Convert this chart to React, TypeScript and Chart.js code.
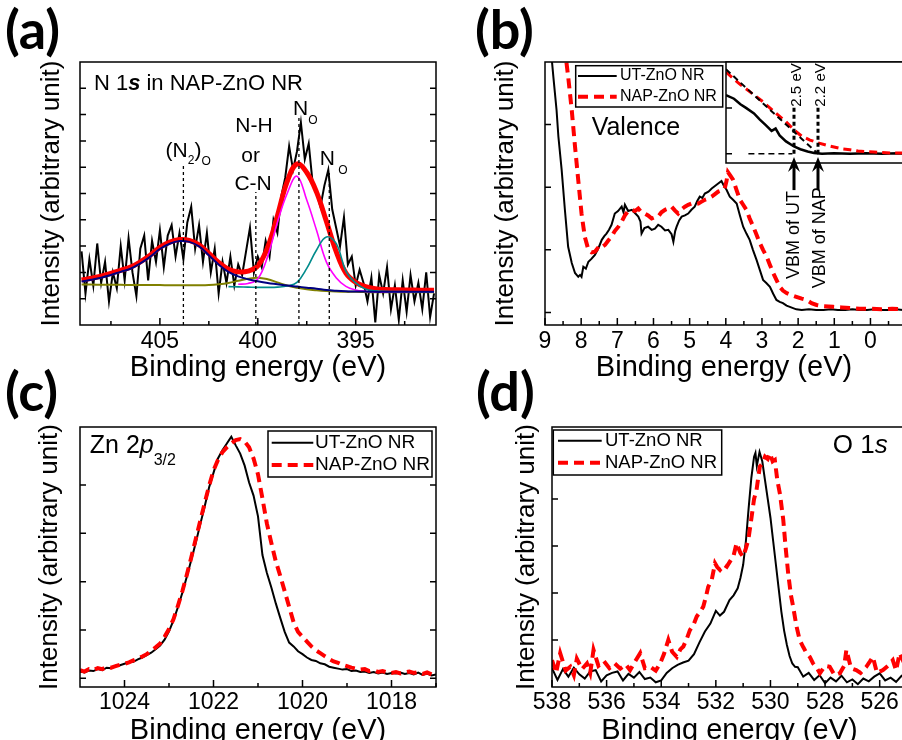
import React, { useEffect, useRef } from 'react';
import { Chart, registerables } from 'chart.js';

Chart.register(...registerables);

const FONT = '"Liberation Sans", Arial, Helvetica, sans-serif';
const X_TITLE = 'Binding energy (eV)';
const Y_TITLE = 'Intensity (arbitrary unit)';
const UT_LABEL = 'UT-ZnO NR';
const NAP_LABEL = 'NAP-ZnO NR';

// ---------------- Panel (a): N 1s in NAP-ZnO NR ----------------
const n1sTicks = [395, 400, 405];
const n1sMinorTicks = [392.5, 397.5, 402.5, 407.5];
const n1sYTicks = [1, 2, 3, 4, 5, 6, 7, 8, 9];
const n1sDataEnergy = [
  409.0, 408.8, 408.6, 408.4, 408.2, 408.0, 407.8, 407.6, 407.4, 407.2,
  407.0, 406.8, 406.6, 406.4, 406.2, 406.0, 405.8, 405.6, 405.4, 405.2,
  405.0, 404.8, 404.6, 404.4, 404.2, 404.0, 403.8, 403.6, 403.4, 403.2,
  403.0, 402.8, 402.6, 402.4, 402.2, 402.0, 401.8, 401.6, 401.4, 401.2,
  401.0, 400.8, 400.6, 400.4, 400.2, 400.0, 399.8, 399.6, 399.4, 399.2,
  399.0, 398.8, 398.6, 398.4, 398.2, 398.0, 397.8, 397.6, 397.4, 397.2,
  397.0, 396.8, 396.6, 396.4, 396.2, 396.0, 395.8, 395.6, 395.4, 395.2,
  395.0, 394.8, 394.6, 394.4, 394.2, 394.0, 393.8, 393.6, 393.4, 393.2,
  393.0, 392.8, 392.6, 392.4, 392.2, 392.0, 391.8, 391.6, 391.4, 391.2,
  391.0,
];
const n1sData = [
  2.8, 1.2, 2.5, 1.5, 3.1, 1.6, 2.4, 0.9, 2.0, 1.4,
  3.0, 1.7, 3.3, 2.0, 1.1, 2.9, 3.4, 1.7, 3.2, 2.4,
  3.6, 2.2, 3.4, 3.8, 2.6, 3.5, 2.5, 3.9, 4.5, 2.9,
  3.8, 2.4, 3.5, 2.0, 2.9, 1.2, 2.4, 1.6, 2.6, 1.5,
  2.3, 1.9, 2.8, 3.7, 2.0, 2.6, 2.2, 3.2, 2.6, 4.0,
  3.5, 4.9, 5.6, 6.8, 5.9, 6.6, 7.7, 6.3, 6.9, 5.4,
  5.0, 4.5, 5.3, 5.9, 4.4, 3.7, 3.0, 4.1, 2.3, 2.6,
  1.5, 2.1, 1.6, 0.9, 1.8, 0.1, 1.9, 1.2, 2.2, 0.6,
  1.5, 0.2, 1.7, 0.5, 1.9, 0.9, 1.6, 0.6, 2.0, 0.3,
  1.2,
];
const n1sFitEnergy = [
  409.0, 408.5, 408.0, 407.5, 407.0, 406.5, 406.0, 405.5, 405.0, 404.5,
  404.0, 403.5, 403.0, 402.5, 402.0, 401.5, 401.0, 400.5, 400.0, 399.5,
  399.0, 398.5, 398.0, 397.5, 397.0, 396.5, 396.0, 395.5, 395.0, 394.5,
  394.0, 393.5, 393.0, 392.5, 392.0, 391.5, 391.0,
];
const n1sEnvelope = [
  1.71, 1.78, 1.86, 1.96, 2.08, 2.20, 2.40, 2.65, 2.95, 3.15,
  3.25, 3.22, 3.05, 2.72, 2.38, 2.12, 2.02, 2.05, 2.25, 2.95,
  4.15, 5.45, 6.12, 5.80, 5.05, 3.95, 2.80, 1.97, 1.62, 1.46,
  1.38, 1.35, 1.34, 1.33, 1.33, 1.32, 1.32,
];
const n1sN2OComp = [
  1.65, 1.72, 1.80, 1.90, 2.02, 2.14, 2.34, 2.59, 2.89, 3.09,
  3.19, 3.16, 2.99, 2.65, 2.30, 2.02, 1.85, 1.74, 1.66, 1.60,
  1.55, 1.50, 1.46, 1.42, 1.38, 1.33, 1.30, 1.28, 1.27, 1.27,
  1.26, 1.26, 1.26, 1.26, 1.26, 1.26, 1.26,
];
const n1sNOComp1 = [
  null, null, null, null, null, null, null, null, null, null,
  null, null, null, null, null, null, 1.55, 1.58, 1.75, 2.60,
  3.90, 5.00, 5.66, 4.75, 3.60, 2.40, 1.80, 1.47, 1.33, 1.28,
  1.26, 1.25, 1.25, 1.25, 1.25, 1.25, 1.25,
];
const n1sNOComp2 = [
  null, null, null, null, null, null, null, null, null, null,
  null, null, null, null, null, 1.46, 1.45, 1.44, 1.43, 1.43,
  1.44, 1.48, 1.62, 2.15, 2.85, 3.35, 3.10, 2.05, 1.60, 1.37,
  1.30, 1.28, 1.27, 1.27, 1.26, 1.26, 1.26,
];
const n1sBackground = [
  1.54, 1.54, 1.53, 1.53, 1.53, 1.52, 1.52, 1.52, 1.52, 1.51,
  1.51, 1.51, 1.51, 1.52, 1.55, 1.60, 1.68, 1.76, 1.80, 1.74,
  1.62, 1.50, 1.42, 1.36, 1.32, 1.29, 1.27, 1.26, 1.26, 1.25,
  1.25, 1.25, 1.25, 1.25, 1.25, 1.25, 1.25,
];

// ---------------- Panel (b): Valence band ----------------
const valTicks = [0, 1, 2, 3, 4, 5, 6, 7, 8, 9];
const valMinorTicks = [-0.5, 0.5, 1.5, 2.5, 3.5, 4.5, 5.5, 6.5, 7.5, 8.5];
const valYTicks = [0, 1, 2, 3];
const valenceUT: [number, number][] = [
  [8.9, 4.6], [8.77, 3.77], [8.68, 3.23], [8.63, 2.81], [8.54, 2.28], [8.45, 1.64], [8.36, 1.05],
  [8.26, 0.79], [8.17, 0.63], [8.08, 0.57], [8.03, 0.6], [7.99, 0.57], [7.94, 0.73], [7.87, 0.7],
  [7.8, 0.81], [7.71, 0.86], [7.62, 0.92], [7.52, 1.03], [7.43, 1.16], [7.36, 1.22], [7.3, 1.26],
  [7.23, 1.32], [7.16, 1.4], [7.07, 1.58], [6.98, 1.62], [6.88, 1.69], [6.83, 1.6], [6.79, 1.72],
  [6.7, 1.62], [6.6, 1.64], [6.5, 1.58], [6.42, 1.53], [6.36, 1.45], [6.33, 1.26], [6.25, 1.35],
  [6.15, 1.37], [6.05, 1.32], [5.96, 1.34], [5.87, 1.4], [5.78, 1.37], [5.68, 1.31], [5.59, 1.32],
  [5.5, 1.25], [5.45, 1.13], [5.4, 1.3], [5.36, 1.37], [5.29, 1.47], [5.22, 1.53], [5.13, 1.55],
  [5.04, 1.58], [4.95, 1.64], [4.86, 1.69], [4.79, 1.78], [4.72, 1.85], [4.65, 1.83], [4.58, 1.9],
  [4.48, 1.93], [4.39, 1.98], [4.3, 2.02], [4.21, 2.06], [4.12, 2.1], [4.05, 2.02], [3.98, 1.96],
  [3.89, 1.85], [3.8, 1.8], [3.7, 1.74], [3.61, 1.55], [3.52, 1.37], [3.43, 1.26], [3.34, 1.16],
  [3.25, 1.0], [3.15, 0.84], [3.06, 0.68], [2.97, 0.52], [2.88, 0.47], [2.78, 0.41], [2.69, 0.3],
  [2.6, 0.2], [2.51, 0.17], [2.42, 0.15], [2.32, 0.11], [2.23, 0.09], [2.14, 0.07], [2.05, 0.05],
  [1.9, 0.04], [1.7, 0.05], [1.5, 0.04], [1.3, 0.04], [1.1, 0.05], [0.9, 0.04], [0.7, 0.04],
  [0.5, 0.05], [0.3, 0.04], [0.1, 0.04], [-0.1, 0.05], [-0.3, 0.04], [-0.5, 0.04], [-0.7, 0.05],
  [-0.9, 0.04],
];
const valenceNAP: [number, number][] = [
  [8.5, 4.5], [8.45, 4.2], [8.36, 3.77], [8.26, 3.23], [8.17, 2.65], [8.08, 2.11], [7.99, 1.58],
  [7.9, 1.21], [7.8, 1.0], [7.71, 0.96], [7.62, 0.97], [7.55, 1.02], [7.48, 1.0], [7.41, 1.05],
  [7.34, 1.08], [7.25, 1.15], [7.16, 1.21], [7.07, 1.3], [6.97, 1.37], [6.88, 1.45], [6.79, 1.55],
  [6.7, 1.62], [6.6, 1.64], [6.51, 1.62], [6.42, 1.66], [6.33, 1.6], [6.24, 1.58], [6.15, 1.55],
  [6.05, 1.5], [5.96, 1.52], [5.87, 1.53], [5.78, 1.6], [5.68, 1.64], [5.59, 1.66], [5.5, 1.69],
  [5.41, 1.63], [5.32, 1.58], [5.22, 1.65], [5.13, 1.69], [5.04, 1.72], [4.95, 1.74], [4.86, 1.73],
  [4.76, 1.74], [4.67, 1.77], [4.58, 1.8], [4.48, 1.82], [4.39, 1.85], [4.3, 1.89], [4.21, 1.93],
  [4.12, 1.95], [4.03, 1.98], [3.98, 2.1], [3.94, 2.24], [3.87, 2.18], [3.8, 2.12], [3.7, 1.95],
  [3.61, 1.8], [3.52, 1.72], [3.43, 1.64], [3.34, 1.5], [3.24, 1.37], [3.15, 1.24], [3.06, 1.11],
  [2.97, 1.0], [2.87, 0.89], [2.78, 0.76], [2.69, 0.63], [2.6, 0.52], [2.51, 0.41], [2.42, 0.35],
  [2.32, 0.31], [2.2, 0.28], [2.05, 0.25], [1.9, 0.22], [1.77, 0.2], [1.63, 0.15], [1.49, 0.12],
  [1.3, 0.1], [1.03, 0.09], [0.8, 0.08], [0.57, 0.07], [0.3, 0.06], [0.0, 0.06], [-0.3, 0.05],
  [-0.6, 0.06], [-0.9, 0.05],
];
// inset (zoom of the valence band edge)
const insetYTicks = [0, 1];
const insetUT: [number, number][] = [
  [3.35, 1.28], [3.25, 1.2], [3.17, 1.08], [3.1, 1.0], [3.0, 0.88], [2.93, 0.75], [2.85, 0.62],
  [2.78, 0.5], [2.73, 0.55], [2.68, 0.4], [2.6, 0.27], [2.5, 0.16], [2.42, 0.1], [2.33, 0.05],
  [2.25, 0.02], [2.15, 0.0], [2.0, 0.01], [1.8, 0.0], [1.6, 0.01], [1.4, 0.0], [1.2, 0.01], [0.98, 0.0],
];
const insetNAP: [number, number][] = [
  [3.35, 1.78], [3.2, 1.55], [3.05, 1.35], [2.9, 1.15], [2.75, 0.92], [2.6, 0.7], [2.5, 0.52],
  [2.4, 0.38], [2.3, 0.3], [2.2, 0.24], [2.1, 0.19], [2.0, 0.15], [1.9, 0.11], [1.8, 0.09],
  [1.7, 0.06], [1.5, 0.04], [1.3, 0.02], [0.98, 0.02],
];
const insetTangent: [number, number][] = [[3.35, 1.84], [2.2, 0]];
const insetBaseline: [number, number][] = [[3.07, 0], [2.52, 0]];
const vbmUT = 2.5;
const vbmNAP = 2.2;

// ---------------- Panel (c): Zn 2p3/2 ----------------
const znTicks = [1018, 1020, 1022, 1024];
const znMinorTicks = [1017, 1019, 1021, 1023];
const znYTicks = [0, 1, 2, 3, 4];
const znEnergy = [
  1025.0, 1024.9, 1024.8, 1024.7, 1024.6, 1024.5, 1024.4, 1024.3, 1024.2, 1024.1,
  1024.0, 1023.9, 1023.8, 1023.7, 1023.6, 1023.5, 1023.4, 1023.3, 1023.2, 1023.1,
  1023.0, 1022.9, 1022.8, 1022.7, 1022.6, 1022.5, 1022.4, 1022.3, 1022.2, 1022.1,
  1022.0, 1021.9, 1021.8, 1021.7, 1021.6, 1021.5, 1021.4, 1021.3, 1021.2, 1021.1,
  1021.0, 1020.9, 1020.8, 1020.7, 1020.6, 1020.5, 1020.4, 1020.3, 1020.2, 1020.1,
  1020.0, 1019.9, 1019.8, 1019.7, 1019.6, 1019.5, 1019.4, 1019.3, 1019.2, 1019.1,
  1019.0, 1018.9, 1018.8, 1018.7, 1018.6, 1018.5, 1018.4, 1018.3, 1018.2, 1018.1,
  1018.0, 1017.9, 1017.8, 1017.7, 1017.6, 1017.5, 1017.4, 1017.3, 1017.2, 1017.1,
  1017.0,
];
const znUT = [
  0.14, 0.12, 0.16, 0.15, 0.19, 0.17, 0.22, 0.21, 0.26, 0.27,
  0.30, 0.33, 0.34, 0.39, 0.43, 0.48, 0.53, 0.60, 0.68, 0.80,
  0.97, 1.20, 1.47, 1.77, 2.10, 2.45, 2.80, 3.18, 3.55, 3.95,
  4.25, 4.55, 4.72, 4.86, 5.00, 4.82, 4.65, 4.40, 4.05, 3.78,
  3.35, 2.55, 2.18, 1.88, 1.55, 1.25, 0.96, 0.74, 0.66, 0.56,
  0.50, 0.43, 0.38, 0.36, 0.31, 0.29, 0.24, 0.22, 0.20, 0.18,
  0.19, 0.15, 0.16, 0.13, 0.14, 0.11, 0.13, 0.10, 0.12, 0.09,
  0.11, 0.10, 0.12, 0.09, 0.11, 0.08, 0.12, 0.07, 0.10, 0.06,
  0.08,
];
const znNAP = [
  0.17, 0.14, 0.19, 0.17, 0.21, 0.19, 0.23, 0.22, 0.25, 0.28,
  0.30, 0.33, 0.37, 0.41, 0.45, 0.50, 0.57, 0.64, 0.72, 0.86,
  1.02, 1.22, 1.50, 1.80, 2.14, 2.50, 2.88, 3.25, 3.62, 3.98,
  4.30, 4.52, 4.68, 4.78, 4.86, 4.93, 4.95, 4.90, 4.78, 4.55,
  4.22, 3.72, 3.20, 2.80, 2.42, 2.12, 1.80, 1.48, 1.16, 0.96,
  0.86, 0.76, 0.66, 0.58, 0.52, 0.46, 0.40, 0.35, 0.32, 0.28,
  0.25, 0.22, 0.20, 0.18, 0.19, 0.15, 0.17, 0.13, 0.15, 0.12,
  0.11, 0.13, 0.10, 0.12, 0.14, 0.11, 0.13, 0.09, 0.12, 0.08,
  0.09,
];

// ---------------- Panel (d): O 1s ----------------
const oTicks = [526, 528, 530, 532, 534, 536, 538];
const oMinorTicks = [527, 529, 531, 533, 535, 537];
const oYTicks = [1, 2, 3, 4];
const o1sUT: [number, number][] = [
  [538.0, 0.4], [537.8, 0.15], [537.6, 0.38], [537.4, 0.22], [537.2, 0.41], [537.0, 0.27],
  [536.8, 0.18], [536.6, 0.33], [536.4, 0.36], [536.2, 0.12], [536.0, 0.25], [535.8, 0.3],
  [535.6, 0.33], [535.4, 0.14], [535.2, 0.28], [535.0, 0.2], [534.8, 0.32], [534.6, 0.17],
  [534.4, 0.2], [534.2, 0.1], [534.0, 0.14], [533.8, 0.3], [533.6, 0.4], [533.4, 0.47],
  [533.2, 0.52], [533.0, 0.56], [532.8, 0.7], [532.6, 0.95], [532.4, 1.18], [532.2, 1.35],
  [532.0, 1.62], [531.85, 1.52], [531.7, 1.6], [531.5, 1.85], [531.35, 1.95], [531.2, 2.1],
  [531.1, 2.32], [531.0, 2.6], [530.9, 3.1], [530.8, 3.8], [530.7, 4.45], [530.6, 4.9],
  [530.55, 4.98], [530.5, 4.7], [530.4, 5.0], [530.3, 4.8], [530.2, 4.4], [530.1, 4.0],
  [530.0, 3.6], [529.9, 3.1], [529.8, 2.6], [529.7, 2.1], [529.6, 1.6], [529.5, 1.2],
  [529.4, 0.9], [529.3, 0.66], [529.2, 0.5], [529.1, 0.43], [529.0, 0.42], [528.8, 0.22],
  [528.6, 0.3], [528.4, 0.15], [528.2, 0.25], [528.0, 0.08], [527.8, 0.2], [527.6, 0.12],
  [527.4, 0.24], [527.2, 0.1], [527.0, 0.16], [526.8, 0.06], [526.6, 0.18], [526.4, 0.12],
  [526.2, 0.22], [526.0, 0.29], [525.8, 0.14], [525.6, 0.2], [525.4, 0.11], [525.2, 0.24],
  [525.0, 0.16],
];
const o1sNAP: [number, number][] = [
  [538.0, 0.57], [537.85, 0.3], [537.7, 0.72], [537.5, 0.35], [537.33, 0.43], [537.2, 0.25],
  [537.09, 0.6], [536.9, 0.38], [536.72, 0.5], [536.6, 0.3], [536.48, 0.79], [536.3, 0.45],
  [536.1, 0.55], [535.9, 0.4], [535.7, 0.5], [535.5, 0.39], [535.3, 0.48], [535.14, 0.36],
  [534.95, 0.55], [534.77, 0.72], [534.6, 0.4], [534.4, 0.43], [534.2, 0.35], [534.04, 0.5],
  [533.9, 0.7], [533.74, 1.0], [533.6, 0.75], [533.43, 0.64], [533.3, 0.8], [533.19, 0.86],
  [533.05, 1.05], [532.95, 1.21], [532.8, 1.35], [532.7, 1.5], [532.55, 1.62], [532.46, 1.71],
  [532.35, 1.95], [532.28, 2.13], [532.15, 2.28], [532.03, 2.63], [531.95, 2.55], [531.85, 2.49],
  [531.7, 2.6], [531.6, 2.56], [531.45, 2.7], [531.36, 2.77], [531.24, 3.06], [531.1, 2.85],
  [531.0, 2.77], [530.9, 2.95], [530.81, 3.13], [530.69, 3.62], [530.6, 4.0], [530.51, 4.19],
  [530.39, 4.69], [530.3, 4.75], [530.2, 4.9], [530.1, 4.85], [530.02, 4.97], [529.92, 4.8],
  [529.84, 4.83], [529.75, 4.4], [529.65, 4.1], [529.53, 3.55], [529.45, 3.0], [529.35, 2.41],
  [529.25, 1.95], [529.17, 1.71], [529.05, 1.3], [528.93, 1.0], [528.8, 0.85], [528.68, 0.72],
  [528.56, 0.64], [528.44, 0.5], [528.3, 0.4], [528.19, 0.29], [528.0, 0.45], [527.83, 0.43],
  [527.65, 0.25], [527.46, 0.29], [527.3, 0.45], [527.22, 0.79], [527.05, 0.4], [526.86, 0.36],
  [526.7, 0.3], [526.49, 0.43], [526.35, 0.55], [526.25, 0.64], [526.1, 0.3], [525.88, 0.36],
  [525.7, 0.45], [525.52, 0.57], [525.4, 0.35], [525.27, 0.72], [525.1, 0.5], [525.0, 0.6],
];

// ---------------- helpers ----------------
const zipPts = (xs: number[], ys: (number | null)[]) => xs.map((x, i) => ({ x, y: ys[i] }));
const pairPts = (p: [number, number][]) => p.map(([x, y]) => ({ x, y }));

function line(label: string, data: any[], color: string, width: number, dash: number[] = [], tension = 0) {
  return {
    label, data, borderColor: color, backgroundColor: color, borderWidth: width, borderDash: dash,
    pointRadius: 0, pointHoverRadius: 0, tension, fill: false, spanGaps: false,
  };
}

function xAxis(min: number, max: number, ticks: number[], axisH: number, tickPad: number, titlePad: number) {
  return {
    type: 'linear', position: 'bottom', reverse: true, min, max,
    grid: { display: false, drawTicks: false, tickLength: 0 }, border: { display: false },
    afterBuildTicks: (s: any) => { s.ticks = ticks.map((v) => ({ value: v })); },
    afterFit: (s: any) => { s.height = axisH; },
    ticks: {
      display: true, color: '#000', font: { family: FONT, size: 23 }, padding: tickPad,
      maxRotation: 0, minRotation: 0, autoSkip: false, callback: (v: any) => String(v),
    },
    title: { display: true, text: X_TITLE, color: '#000', font: { family: FONT, size: 29 }, padding: { top: 0, bottom: titlePad } },
  };
}

function yAxis(min: number, max: number, axisW: number, titlePad: number) {
  return {
    type: 'linear', position: 'left', min, max,
    grid: { display: false, drawTicks: false, tickLength: 0 }, border: { display: false },
    ticks: { display: false },
    afterFit: (s: any) => { s.width = axisW; },
    title: { display: true, text: Y_TITLE, color: '#000', font: { family: FONT, size: 26 }, padding: { top: titlePad, bottom: 0 } },
  };
}

function hiddenAxis(min: number, max: number, reverse = false) {
  return { type: 'linear', display: false, min, max, reverse };
}

function baseOptions(padding: any, scales: any) {
  return {
    responsive: false, maintainAspectRatio: false, animation: false, devicePixelRatio: 1, events: [],
    layout: { padding, autoPadding: false },
    plugins: { legend: { display: false }, tooltip: { enabled: false }, title: { display: false } },
    scales,
  };
}

type Seg = { t: string; size: number; style?: string; weight?: string; dy?: number };
const segFont = (s: Seg) => `${s.style || 'normal'} ${s.weight || 'normal'} ${s.size}px ${FONT}`;

function drawRich(ctx: CanvasRenderingContext2D, x: number, y: number, segs: Seg[], align = 'left', baseline = 'alphabetic', rot = 0) {
  ctx.save();
  ctx.translate(x, y);
  if (rot) ctx.rotate((rot * Math.PI) / 180);
  ctx.textBaseline = baseline as CanvasTextBaseline;
  ctx.textAlign = 'left';
  ctx.fillStyle = '#000';
  let total = 0;
  const ws = segs.map((s) => { ctx.font = segFont(s); const w = ctx.measureText(s.t).width; total += w; return w; });
  let cx = align === 'center' ? -total / 2 : align === 'right' ? -total : 0;
  segs.forEach((s, i) => { ctx.font = segFont(s); ctx.fillText(s.t, cx, s.dy || 0); cx += ws[i]; });
  ctx.restore();
}

function annotPlugin(items: any[]) {
  return {
    id: 'annot',
    afterDatasetsDraw(chart: any) {
      const { ctx } = chart;
      const xs = chart.scales.x, ys = chart.scales.y;
      for (const it of items) {
        if (it.type === 'vline') {
          const px = xs.getPixelForValue(it.x);
          ctx.save();
          ctx.strokeStyle = it.color || '#000';
          ctx.lineWidth = it.width || 1;
          ctx.setLineDash(it.dash || []);
          ctx.beginPath();
          ctx.moveTo(px, ys.getPixelForValue(it.y0));
          ctx.lineTo(px, ys.getPixelForValue(it.y1));
          ctx.stroke();
          ctx.restore();
        } else if (it.type === 'arrow') {
          const px = xs.getPixelForValue(it.x);
          const tip = ys.getPixelForValue(it.tip);
          const tail = ys.getPixelForValue(it.tail);
          ctx.save();
          ctx.strokeStyle = '#000';
          ctx.fillStyle = '#000';
          ctx.lineWidth = it.width;
          ctx.setLineDash([]);
          ctx.beginPath();
          ctx.moveTo(px, tail);
          ctx.lineTo(px, tip + it.head * 0.6);
          ctx.stroke();
          ctx.beginPath();
          ctx.moveTo(px, tip);
          ctx.lineTo(px - it.headW / 2, tip + it.head);
          ctx.lineTo(px, tip + it.head * 0.65);
          ctx.lineTo(px + it.headW / 2, tip + it.head);
          ctx.closePath();
          ctx.fill();
          ctx.restore();
        } else if (it.type === 'text') {
          drawRich(ctx, xs.getPixelForValue(it.x), ys.getPixelForValue(it.y), it.segs, it.align, it.baseline, it.rot);
        }
      }
    },
  };
}

function framePlugin(cfg: any) {
  return {
    id: 'frame',
    afterDatasetsDraw(chart: any) {
      const { ctx, chartArea: a } = chart;
      const xs = chart.scales.x, ys = chart.scales.y;
      ctx.save();
      ctx.strokeStyle = '#000';
      ctx.lineWidth = 1.5;
      ctx.setLineDash([]);
      ctx.beginPath();
      (cfg.xMajor || []).forEach((v: number) => { const p = xs.getPixelForValue(v); ctx.moveTo(p, a.bottom); ctx.lineTo(p, a.bottom - 7); });
      (cfg.xMinor || []).forEach((v: number) => { const p = xs.getPixelForValue(v); ctx.moveTo(p, a.bottom); ctx.lineTo(p, a.bottom - 4); });
      (cfg.yMajor || []).forEach((v: number) => {
        const p = ys.getPixelForValue(v);
        ctx.moveTo(a.left, p); ctx.lineTo(a.left + 6, p);
        if (cfg.right) { ctx.moveTo(a.right, p); ctx.lineTo(a.right - 6, p); }
      });
      ctx.stroke();
      ctx.strokeRect(a.left, a.top, a.right - a.left, a.bottom - a.top);
      ctx.restore();
    },
  };
}

function boxLegendPlugin(cfg: any) {
  return {
    id: 'boxLegend',
    afterDatasetsDraw(chart: any) {
      const { ctx, chartArea: a } = chart;
      const bx = a.left + cfg.dx, by = a.top + cfg.dy;
      ctx.save();
      ctx.fillStyle = '#fff';
      ctx.fillRect(bx, by, cfg.w, cfg.h);
      ctx.strokeStyle = '#000';
      ctx.lineWidth = 1.5;
      ctx.setLineDash([]);
      ctx.strokeRect(bx, by, cfg.w, cfg.h);
      for (const r of cfg.rows) {
        const ds = chart.data.datasets[r.ds];
        const y = by + r.dy;
        ctx.strokeStyle = ds.borderColor;
        ctx.lineWidth = ds.borderWidth;
        ctx.setLineDash(ds.borderDash || []);
        ctx.beginPath();
        ctx.moveTo(bx + cfg.lineX0, y);
        ctx.lineTo(bx + cfg.lineX1, y);
        ctx.stroke();
        ctx.setLineDash([]);
        ctx.fillStyle = '#000';
        ctx.font = `${cfg.size}px ${FONT}`;
        ctx.textBaseline = 'middle';
        ctx.textAlign = 'left';
        ctx.fillText(ds.label, bx + cfg.textX, y);
      }
      ctx.restore();
    },
  };
}

const whiteAreaPlugin = {
  id: 'whiteArea',
  beforeDatasetsDraw(chart: any) {
    const { ctx, chartArea: a } = chart;
    ctx.save();
    ctx.fillStyle = '#fff';
    ctx.fillRect(a.left, a.top, a.right - a.left, a.bottom - a.top);
    ctx.restore();
  },
};

const RED = 'rgb(255,0,0)';
const DASH = [10, 6];

// ---------------- chart configs ----------------
const buildA = () => ({
  type: 'line',
  data: {
    datasets: [
      line('(N2)O fit', zipPts(n1sFitEnergy, n1sN2OComp), '#000080', 2, [], 0.4),
      line('NO fit 2', zipPts(n1sFitEnergy, n1sNOComp2), '#008b8b', 1.6, [], 0.4),
      line('NO fit 1', zipPts(n1sFitEnergy, n1sNOComp1), '#ff00ff', 1.6, [], 0.4),
      line('Background', zipPts(n1sFitEnergy, n1sBackground), '#808000', 2, [], 0.4),
      line('Envelope', zipPts(n1sFitEnergy, n1sEnvelope), RED, 5, [], 0.4),
      line('N 1s data', zipPts(n1sDataEnergy, n1sData), '#000', 2),
    ],
  },
  options: baseOptions({ left: 0, top: 62, right: 15, bottom: 0 }, {
    x: xAxis(390.9, 409.08, n1sTicks, 75, 3, 15),
    y: yAxis(0, 10, 80, 36),
  }),
  plugins: [
    annotPlugin([
      { type: 'vline', x: 403.8, y0: 0, y1: 6.16, width: 1.3, dash: [3, 3] },
      { type: 'vline', x: 400.1, y0: 0, y1: 5.06, width: 1.3, dash: [3, 3] },
      { type: 'vline', x: 397.9, y0: 0, y1: 7.87, width: 1.3, dash: [3, 3] },
      { type: 'vline', x: 396.35, y0: 0, y1: 5.78, width: 1.3, dash: [3, 3] },
      { type: 'text', x: 408.37, y: 8.94, segs: [{ t: 'N 1', size: 22 }, { t: 's', size: 22, style: 'italic', weight: 'bold' }, { t: ' in NAP-ZnO NR', size: 22 }] },
      { type: 'text', x: 404.71, y: 6.4, segs: [{ t: '(N', size: 21 }, { t: '2', size: 12, dy: 7 }, { t: ')', size: 21 }, { t: 'O', size: 12, dy: 8 }] },
      { type: 'text', x: 400.2, y: 7.35, align: 'center', segs: [{ t: 'N-H', size: 21 }] },
      { type: 'text', x: 400.37, y: 6.21, align: 'center', segs: [{ t: 'or', size: 21 }] },
      { type: 'text', x: 400.24, y: 5.13, align: 'center', segs: [{ t: 'C-N', size: 21 }] },
      { type: 'text', x: 398.2, y: 7.98, segs: [{ t: 'N', size: 21 }, { t: 'O', size: 12, dy: 9 }] },
      { type: 'text', x: 396.84, y: 6.08, segs: [{ t: 'N', size: 21 }, { t: ' O', size: 12, dy: 9 }] },
    ]),
    framePlugin({ xMajor: n1sTicks, xMinor: n1sMinorTicks, yMajor: n1sYTicks, right: true }),
  ],
});

const buildB = () => ({
  type: 'line',
  data: {
    datasets: [
      line(NAP_LABEL, pairPts(valenceNAP), RED, 4, DASH),
      line(UT_LABEL, pairPts(valenceUT), '#000', 2),
    ],
  },
  options: baseOptions({ left: 0, top: 62, right: 8, bottom: 0 }, {
    x: xAxis(-0.9, 9, valTicks, 75, 3, 15),
    y: yAxis(-0.2, 4.0, 94, 39),
  }),
  plugins: [
    annotPlugin([
      { type: 'text', x: 7.71, y: 2.83, segs: [{ t: 'Valence', size: 25 }] },
    ]),
    framePlugin({ xMajor: valTicks, xMinor: valMinorTicks, yMajor: valYTicks }),
    boxLegendPlugin({ dx: 30.7, dy: 3.7, w: 147, h: 41.3, lineX0: 2.3, lineX1: 41, textX: 44.3, size: 16, rows: [{ ds: 1, dy: 10.3 }, { ds: 0, dy: 31 }] }),
  ],
});

const buildInset = () => ({
  type: 'line',
  data: {
    datasets: [
      line('tangent', pairPts(insetTangent), '#000', 2, [6, 4]),
      line('baseline', pairPts(insetBaseline), '#000', 1.5, [6, 4]),
      line(NAP_LABEL, pairPts(insetNAP), RED, 3, [8, 5]),
      line(UT_LABEL, pairPts(insetUT), '#000', 2.5),
    ],
  },
  options: baseOptions({ left: 26, top: 22, right: 4, bottom: 137 }, {
    x: hiddenAxis(0.975, 3.35, true),
    y: hiddenAxis(-0.2, 2.0),
  }),
  plugins: [
    whiteAreaPlugin,
    annotPlugin([
      { type: 'vline', x: vbmUT, y0: 0, y1: 1.06, width: 3, dash: [4, 3] },
      { type: 'vline', x: vbmNAP, y0: 0, y1: 1.06, width: 3, dash: [4, 3] },
      { type: 'text', x: 2.47, y: 1.5, align: 'center', baseline: 'middle', rot: -90, segs: [{ t: '2.5 eV', size: 15 }] },
      { type: 'text', x: 2.17, y: 1.5, align: 'center', baseline: 'middle', rot: -90, segs: [{ t: '2.2 eV', size: 15 }] },
      { type: 'arrow', x: vbmUT, tip: -0.07, tail: -0.79, width: 3, head: 15, headW: 12 },
      { type: 'arrow', x: vbmNAP, tip: -0.07, tail: -0.79, width: 3, head: 15, headW: 12 },
      { type: 'text', x: vbmUT, y: -1.77, align: 'center', baseline: 'middle', rot: -90, segs: [{ t: 'VBM of UT', size: 18 }] },
      { type: 'text', x: 2.17, y: -1.83, align: 'center', baseline: 'middle', rot: -90, segs: [{ t: 'VBM of NAP', size: 18 }] },
    ]),
    framePlugin({ yMajor: insetYTicks }),
  ],
});

const buildC = () => ({
  type: 'line',
  data: {
    datasets: [
      line(NAP_LABEL, zipPts(znEnergy, znNAP), RED, 4, DASH),
      line(UT_LABEL, zipPts(znEnergy, znUT), '#000', 2),
    ],
  },
  options: baseOptions({ left: 0, top: 27, right: 15, bottom: 0 }, {
    x: xAxis(1017, 1025, znTicks, 73, 2, 12),
    y: yAxis(-0.18, 5.2, 80, 34),
  }),
  plugins: [
    annotPlugin([
      { type: 'text', x: 1024.78, y: 4.66, segs: [{ t: 'Zn 2', size: 25 }, { t: 'p', size: 25, style: 'italic' }, { t: '3/2', size: 16, dy: 12 }] },
    ]),
    framePlugin({ xMajor: znTicks, xMinor: znMinorTicks, yMajor: znYTicks, right: true }),
    boxLegendPlugin({ dx: 188, dy: 4, w: 164, h: 46, lineX0: 3.7, lineX1: 45.3, textX: 47, size: 19, rows: [{ ds: 1, dy: 11.7 }, { ds: 0, dy: 34 }] }),
  ],
});

const buildD = () => ({
  type: 'line',
  data: {
    datasets: [
      line(NAP_LABEL, pairPts(o1sNAP), RED, 4, DASH),
      line(UT_LABEL, pairPts(o1sUT), '#000', 2),
    ],
  },
  options: baseOptions({ left: 0, top: 27, right: 6, bottom: 0 }, {
    x: xAxis(525, 538, oTicks, 73, 2, 12),
    y: yAxis(0, 5.53, 101, 60),
  }),
  plugins: [
    annotPlugin([
      { type: 'text', x: 527.72, y: 4.97, segs: [{ t: 'O 1', size: 26 }, { t: 's', size: 26, style: 'italic' }] },
    ]),
    framePlugin({ xMajor: oTicks, xMinor: oMinorTicks, yMajor: oYTicks }),
    boxLegendPlugin({ dx: 1.3, dy: 3, w: 168.4, h: 45, lineX0: 4.7, lineX1: 48.4, textX: 51.7, size: 18.5, rows: [{ ds: 1, dy: 10.7 }, { ds: 0, dy: 32.7 }] }),
  ],
});

function ChartBox({ left, top, width, height, build }: any) {
  const ref = useRef<HTMLCanvasElement>(null);
  useEffect(() => {
    const chart = new Chart(ref.current as HTMLCanvasElement, build());
    return () => chart.destroy();
  }, []);
  return <canvas ref={ref} width={width} height={height} style={{ position: 'absolute', left, top, width, height }} />;
}

const panelLabel = (left: number, top: number): React.CSSProperties => ({
  position: 'absolute', left, top, fontFamily: 'Lato, "Open Sans", sans-serif', fontWeight: 'bold',
  fontSize: 54, lineHeight: '54px', color: '#000', margin: 0, whiteSpace: 'nowrap',
});

export default function App() {
  return (
    <div style={{ position: 'absolute', left: 0, top: 0, width: 902, height: 740, overflow: 'hidden', background: '#fff' }}>
      <ChartBox left={0} top={0} width={451} height={400} build={buildA} />
      <ChartBox left={451} top={0} width={460} height={400} build={buildB} />
      <ChartBox left={700} top={40} width={220} height={260} build={buildInset} />
      <ChartBox left={0} top={400} width={451} height={360} build={buildC} />
      <ChartBox left={451} top={400} width={462} height={360} build={buildD} />
      <div style={panelLabel(5, 2)}>(a)</div>
      <div style={panelLabel(475, 2)}>(b)</div>
      <div style={panelLabel(5, 364)}>(c)</div>
      <div style={panelLabel(476, 364)}>(d)</div>
    </div>
  );
}
